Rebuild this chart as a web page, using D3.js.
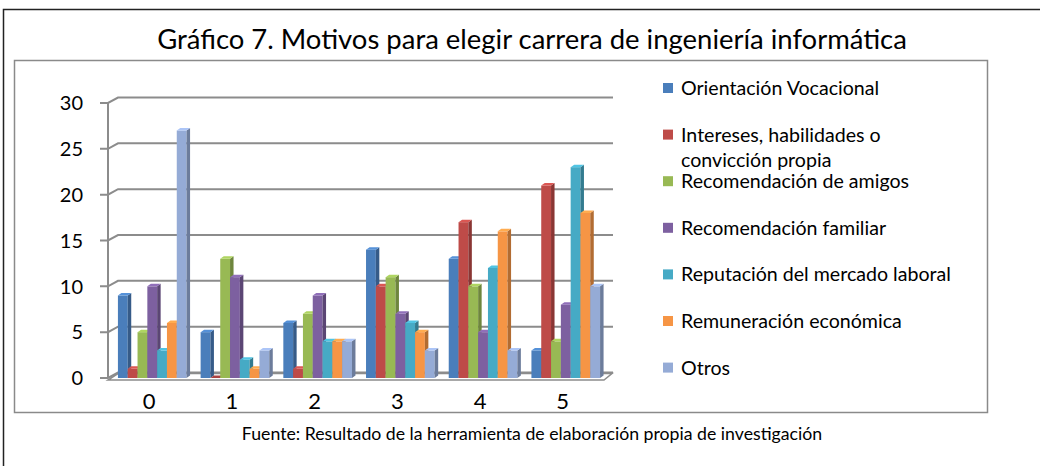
<!DOCTYPE html>
<html><head><meta charset="utf-8">
<script src="https://cdn.jsdelivr.net/npm/d3@7/dist/d3.min.js"></script>
<style>html,body{margin:0;padding:0;background:#fff;}svg{display:block;}</style>
</head><body>
<svg id="chart" width="1040" height="466"></svg>
<script>
const title = "Gráfico 7. Motivos para elegir carrera de ingeniería informática";
const source = "Fuente: Resultado de la herramienta de elaboración propia de investigación";
const categories = ["0", "1", "2", "3", "4", "5"];
const seriesNames = [
  ["Orientación Vocacional"],
  ["Intereses, habilidades o", "convicción propia"],
  ["Recomendación de amigos"],
  ["Recomendación familiar"],
  ["Reputación del mercado laboral"],
  ["Remuneración económica"],
  ["Otros"]
];
const orientacion  = [9, 5, 6, 14, 13, 3];
const intereses    = [1, 0, 1, 10, 17, 21];
const amigos       = [5, 13, 7, 11, 10, 4];
const familiar     = [10, 11, 9, 7, 5, 8];
const reputacion   = [3, 2, 4, 6, 12, 23];
const remuneracion = [6, 1, 4, 5, 16, 18];
const otros        = [27, 3, 4, 3, 3, 10];
const yTicks = [0, 5, 10, 15, 20, 25, 30];
const colors = ["#4A7EBB", "#BE4B48", "#98B954", "#7D60A0", "#46AAC5", "#F69545", "#95ABD6"];

const series = [orientacion, intereses, amigos, familiar, reputacion, remuneracion, otros];

const svg = d3.select("#chart");
const font = "Lato, 'Open Sans', sans-serif";

function fitWidth(sel, target) {
  sel.attr("font-size", 100);
  const w = sel.node().getComputedTextLength();
  sel.attr("font-size", 100 * target / w);
}

// outer frame
svg.append("path").attr("d", "M3.5,480 V9.5 H1050")
  .attr("fill", "none").attr("stroke", "#222").attr("stroke-width", 1.5);
// inner chart box
svg.append("rect").attr("x", 14.5).attr("y", 60.5).attr("width", 973).attr("height", 352)
  .attr("fill", "#fff").attr("stroke", "#8a8a8a").attr("stroke-width", 1.5);

// title
const t = svg.append("text").attr("x", 532).attr("y", 49).attr("text-anchor", "middle")
  .attr("font-family", font).attr("fill", "#000").text(title);
fitWidth(t, 750);

// source
const s = svg.append("text").attr("x", 532).attr("y", 440).attr("text-anchor", "middle")
  .attr("font-family", font).attr("fill", "#000").text(source);
fitWidth(s, 581);

// scales
const y = d3.scaleLinear().domain([0, 30]).range([378, 103]);
const x0 = d3.scaleBand().domain(categories).range([108, 610]).paddingInner(0.17).paddingOuter(0.12);
const x1 = d3.scaleBand().domain(d3.range(series.length)).range([0, x0.bandwidth()]);
const wallDx = 10, wallDy = -5.5;
const barDx = 3.5, barDy = -2.5;
const xLeft = x0.range()[0], xRight = x0.range()[1];

const grid = svg.append("g").attr("fill", "none").attr("stroke", "#8c8c8c").attr("stroke-width", 2);
// floor
grid.append("path")
  .attr("d", `M${xLeft},${y(0) + 2} H${xRight - 6} L${xRight + 2},${y(0) + wallDy + 1} H${xLeft + wallDx} Z`)
  .attr("fill", "#fff").attr("stroke-width", 1.5);
// gridlines on back wall with diagonal side wall segment
yTicks.forEach(v => {
  grid.append("path")
    .attr("d", `M${xLeft - 8},${y(v)} H${xLeft} L${xLeft + wallDx},${y(v) + wallDy} H${xRight + 3}`);
});
// vertical axis line
grid.append("line").attr("x1", xLeft).attr("x2", xLeft).attr("y1", y(0)).attr("y2", y(30));

// y labels
svg.append("g").selectAll("text").data(yTicks).join("text")
  .attr("x", 83).attr("y", d => y(d)).attr("dy", "0.36em").attr("text-anchor", "end")
  .attr("font-family", font).attr("font-size", 20).attr("fill", "#000").text(d => d);

// x labels
svg.append("g").selectAll("text").data(categories).join("text")
  .attr("x", d => x0(d) + x0.bandwidth() / 2 - 3).attr("y", 401).attr("dy", "0.36em")
  .attr("text-anchor", "middle").attr("font-family", font).attr("font-size", 22).attr("fill", "#000")
  .text(d => d);

// bars
const bars = svg.append("g");
categories.forEach((c, ci) => {
  series.forEach((vals, si) => {
    const v = vals[ci];
    const xa = x0(c) + x1(si), w = x1.bandwidth();
    const yt = y(v), yb = y(0);
    const col = d3.color(colors[si]);
    const g = bars.append("g");
    if (v > 0) {
      g.append("rect").attr("x", xa).attr("y", yt).attr("width", w).attr("height", yb - yt)
        .attr("fill", col.formatHex());
      g.append("path")
        .attr("d", `M${xa + w},${yb} L${xa + w + barDx},${yb + barDy} L${xa + w + barDx},${yt + barDy} L${xa + w},${yt} Z`)
        .attr("fill", col.darker(0.9).formatHex());
    }
    g.append("path")
      .attr("d", `M${xa},${yt} L${xa + barDx},${yt + barDy} L${xa + w + barDx},${yt + barDy} L${xa + w},${yt} Z`)
      .attr("fill", v > 0 ? col.brighter(0.4).formatHex() : col.darker(0.3).formatHex());
  });
});

// legend
const legend = svg.append("g");
const legTop = 88, legStep = 46.6;
const legTexts = [];
seriesNames.forEach((lines, i) => {
  const cy = legTop + i * legStep;
  legend.append("rect").attr("x", 663).attr("y", cy - 5).attr("width", 10).attr("height", 10)
    .attr("fill", colors[i]);
  const tx = legend.append("text").attr("x", 681).attr("y", cy).attr("font-family", font).attr("fill", "#000");
  lines.forEach((ln, li) => {
    tx.append("tspan").attr("x", 681).attr("dy", li === 0 ? "0.36em" : "1.3em").text(ln);
  });
  legTexts.push(tx);
});
// size legend so that the longest label spans its width in the reference
const probe = legTexts[4];
fitWidth(probe, 270);
const legSize = +probe.attr("font-size");
legTexts.forEach(tx => tx.attr("font-size", legSize));
</script>
</body></html>
